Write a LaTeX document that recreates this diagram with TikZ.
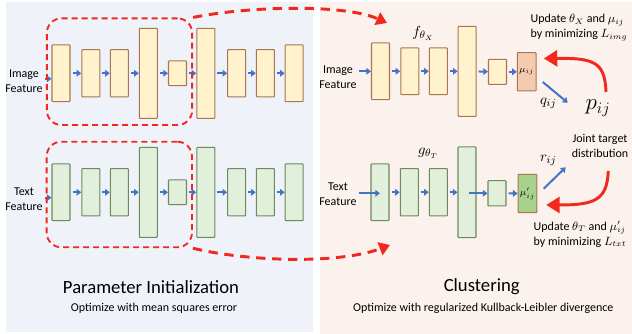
\documentclass[tikz,border=0pt]{standalone}
\usepackage{fontspec}
\setmainfont{Carlito}
\usetikzlibrary{arrows.meta}
\definecolor{initbg}{RGB}{239,243,249}
\definecolor{clusbg}{RGB}{251,242,237}
\definecolor{imgfill}{RGB}{255,242,204}
\definecolor{imgline}{RGB}{168,118,82}
\definecolor{txtfill}{RGB}{226,239,218}
\definecolor{txtline}{RGB}{108,138,92}
\definecolor{mufill}{RGB}{245,203,175}
\definecolor{mutfill}{RGB}{169,209,142}
\definecolor{arrblue}{RGB}{68,114,196}
\definecolor{arrred}{RGB}{240,40,30}
\tikzset{>=stealth,
  imgblk/.style={draw=imgline, fill=imgfill, line width=.8pt, minimum width=13.5pt, inner sep=0pt},
  txtblk/.style={draw=txtline, fill=txtfill, line width=.8pt, minimum width=13.5pt, inner sep=0pt},
  flow/.style={draw=arrblue, line width=1.5pt, -{Triangle[length=3.5pt,width=5pt]}, shorten <=1.5pt},
  initbox/.style={draw=arrred, dash pattern=on 4.5pt off 3pt, line width=1.4pt, rounded corners=11pt, minimum width=109pt, inner sep=0pt},
  handover/.style={draw=arrred, dash pattern=on 7pt off 5pt, line width=2.2pt, -{Triangle[length=8pt,width=10pt]}},
  update/.style={draw=arrred, line width=2.2pt, -{Triangle[length=10pt,width=12pt]}},
  lbl/.style={font=\fontsize{9}{11.25}\selectfont, align=center, inner sep=0pt},
  mlbl/.style={font=\fontsize{11}{13}\selectfont, inner sep=0pt},
  title/.style={font=\fontsize{14}{17}\selectfont, inner sep=0pt}
}

\begin{document}
\begin{tikzpicture}[x=.75pt, y=-.75pt, rounded corners=.5pt]
    \useasboundingbox (0,0) rectangle (632,334);
    \fill[initbg] (6,2) rectangle (313,332);
    \fill[clusbg] (320,2) rectangle (632,334);

    % parameter initialization, image
    \node[lbl] (limg) at (24,81.5) {Image\\Feature};
    \node[imgblk, minimum height=42.5pt] (li1) at (61,73.3) {};
    \node[imgblk, minimum height=35.5pt] (li2) at (90.8,73.3) {};
    \node[imgblk, minimum height=35.5pt] (li3) at (119.3,73.3) {};
    \node[imgblk, minimum height=67.5pt] (li4) at (148.3,73.3) {};
    \node[imgblk, minimum height=18.5pt] (li5) at (177.5,73.3) {};
    \node[imgblk, minimum height=67.5pt] (li6) at (205.8,73.3) {};
    \node[imgblk, minimum height=35.5pt] (li7) at (236.7,73.3) {};
    \node[imgblk, minimum height=35.5pt] (li8) at (265.3,73.3) {};
    \node[imgblk, minimum height=42.5pt] (li9) at (294.2,73.3) {};
    \path ([yshift=2pt]limg.east) edge[flow] ([yshift=2pt]limg.east -| li1.west)
        (li1) edge[flow] (li2) (li2) edge[flow] (li3) (li3) edge[flow] (li4)
        (li4) edge[flow] (li5) (li5) edge[flow] (li6) (li6) edge[flow] (li7)
        (li7) edge[flow] (li8) (li8) edge[flow] (li9);
    \node[initbox, minimum height=80pt] (limgbox) at (119.5,71.7) {};

    % parameter initialization, text
    \node[lbl] (ltxt) at (24,199) {Text\\Feature};
    \node[txtblk, minimum height=42.5pt] (lt1) at (61,192.3) {};
    \node[txtblk, minimum height=35.5pt] (lt2) at (90.8,192.3) {};
    \node[txtblk, minimum height=35.5pt] (lt3) at (119.3,192.3) {};
    \node[txtblk, minimum height=67.5pt] (lt4) at (148.3,192.3) {};
    \node[txtblk, minimum height=18.5pt] (lt5) at (177.5,192.3) {};
    \node[txtblk, minimum height=67.5pt] (lt6) at (205.8,192.3) {};
    \node[txtblk, minimum height=35.5pt] (lt7) at (236.7,192.3) {};
    \node[txtblk, minimum height=35.5pt] (lt8) at (265.3,192.3) {};
    \node[txtblk, minimum height=42.5pt] (lt9) at (294.2,192.3) {};
    \path ([yshift=1pt]ltxt.east) edge[flow] ([yshift=1pt]ltxt.east -| lt1.west)
        (lt1) edge[flow] (lt2) (lt2) edge[flow] (lt3) (lt3) edge[flow] (lt4)
        (lt4) edge[flow] (lt5) (lt5) edge[flow] (lt6) (lt6) edge[flow] (lt7)
        (lt7) edge[flow] (lt8) (lt8) edge[flow] (lt9);
    \node[initbox, minimum height=79.2pt] (ltxtbox) at (119.3,194.5) {};

    \node[title] (inittitle) at (151,286.7) {Parameter Initialization};
    \node[lbl] (initsub) at (154,308.3) {Optimize with mean squares error};

    % clustering, image
    \node[lbl] (rimg) at (338,77.5) {Image\\Feature};
    \node[imgblk, minimum height=42.5pt] (ri1) at (380.5,71.3) {};
    \node[imgblk, minimum height=35pt] (ri2) at (409.8,71.3) {};
    \node[imgblk, minimum height=35pt] (ri3) at (438.3,71.3) {};
    \node[imgblk, minimum height=67.5pt] (ri4) at (467.2,71.3) {};
    \node[imgblk, minimum height=18.75pt] (ri5) at (497.5,71.8) {};
    \node[imgblk, fill=mufill, minimum width=14pt, minimum height=28.7pt] (mu) at (526.7,71.8)
        {\fontsize{7}{8}\selectfont$\mu_{ij}$};
    \path (rimg.east |- ri1) edge[flow] (ri1)
        (ri1) edge[flow] (ri2) (ri2) edge[flow] (ri3) (ri3) edge[flow] (ri4)
        (ri4) edge[flow] (ri5) (ri5) edge[flow] (mu);
    \node[mlbl] (fimg) at (423.3,33.3) {$f_{\theta_X}$};

    % clustering, text
    \node[lbl] (rtxt) at (338,194) {Text\\Feature};
    \node[txtblk, minimum height=42.5pt] (rt1) at (380,192.3) {};
    \node[txtblk, minimum height=35.5pt] (rt2) at (409.3,192.3) {};
    \node[txtblk, minimum height=35.5pt] (rt3) at (438.3,192.3) {};
    \node[txtblk, minimum height=68pt] (rt4) at (467,192.3) {};
    \node[txtblk, minimum height=19pt] (rt5) at (497,193.3) {};
    \node[imgblk, fill=mutfill, minimum width=14pt, minimum height=28.8pt] (mut) at (527.5,193.5)
        {\fontsize{7}{8}\selectfont$\mu'_{ij}$};
    \path (rtxt.east |- rt5) edge[flow] (rt1 |- rt5)
        (rt1) edge[flow] (rt2) (rt2) edge[flow] (rt3) (rt3) edge[flow] (rt4)
        (rt4 |- rt5) edge[flow] (rt5) (rt5) edge[flow] (mut);
    \node[mlbl] (gtxt) at (428.3,153.3) {$g_{\theta_T}$};

    % target distribution and updates
    \node[inner sep=0pt, font=\fontsize{18}{21}\selectfont] (pij) at (598,108) {$p_{ij}$};
    \node[lbl] (joint) at (600,146) {Joint target\\distribution};
    \node[lbl, align=left] (updimg) at (579,27.5) {Update $\theta_X$ and $\mu_{ij}$\\by minimizing $L_{img}$};
    \node[lbl, align=left] (updtxt) at (580,234) {Update $\theta_T$ and $\mu'_{ij}$\\by minimizing $L_{txt}$};
    \node[mlbl] (qlbl) at (548.3,103.3) {$q_{ij}$};
    \node[mlbl] (rlbl) at (548.3,160) {$r_{ij}$};

    \coordinate (qend) at (567.7,102.7);
    \coordinate (rend) at (565.7,167.3);
    \draw[flow] ([xshift=3.5pt,yshift=-6.7pt]mu.east) -- (qend);
    \draw[flow] ([xshift=3.7pt,yshift=2.6pt]mut.east) -- (rend);

    \coordinate (pfrom) at (606,92);
    \coordinate (jfrom) at (608.3,171);
    \draw[update] (pfrom) .. controls (605,62) and (594,58) .. ([xshift=5.5pt,yshift=10pt]mu.east);
    \draw[update] (jfrom) .. controls (607,200) and (595,205) .. ([xshift=6.7pt,yshift=-8.6pt]mut.east);

    % hand over the pretrained weights
    \coordinate (imgto) at (387,23);
    \coordinate (txtto) at (390,245);
    \draw[handover] (limgbox.north east) .. controls (250,6) and (345,4) .. (imgto);
    \draw[handover] (ltxtbox.south east) .. controls (250,262) and (340,264) .. (txtto);

    \node[title] (clustitle) at (481.7,286.7) {Clustering};
    \node[lbl] (clussub) at (483.3,308.3) {Optimize with regularized Kullback-Leibler divergence};
\end{tikzpicture}
\end{document}
